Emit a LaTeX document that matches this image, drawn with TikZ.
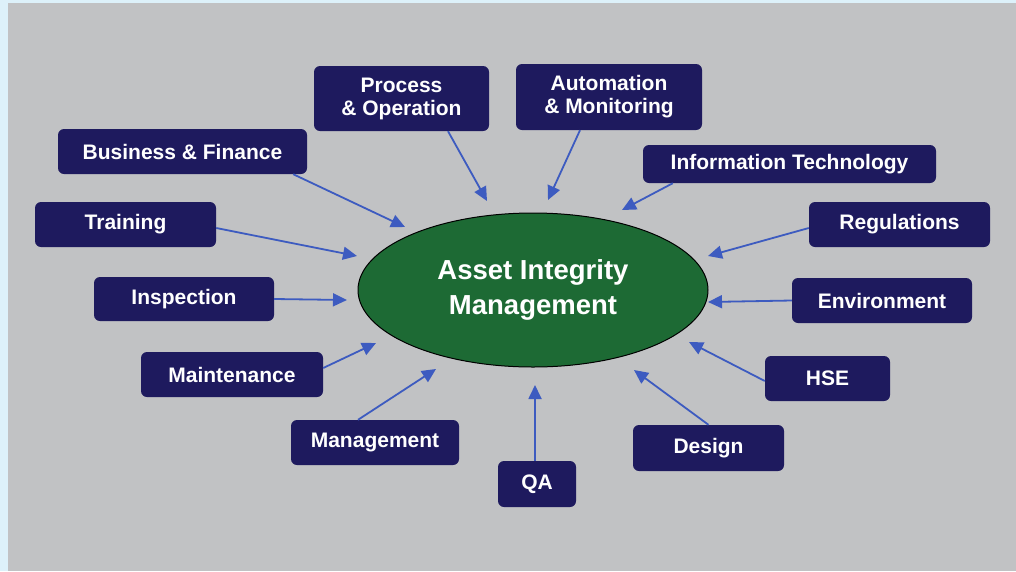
\documentclass[tikz,border=0pt]{standalone}
\usepackage{fontspec}
\setmainfont{Liberation Sans}
\usetikzlibrary{arrows.meta,calc,shapes.geometric}
\definecolor{bgblue}{HTML}{DDF1FA}
\definecolor{bggray}{HTML}{C1C2C4}
\definecolor{navy}{HTML}{1E1A5E}
\definecolor{aimgreen}{HTML}{1D6A34}
\definecolor{arrblue}{HTML}{3D5BC0}
\begin{document}
\begin{tikzpicture}[x=1pt,y=-1pt,
  topic/.style={rectangle,rounded corners=6pt,fill=navy,text=white,inner sep=0pt,
    align=center,font=\bfseries\fontsize{21}{23}\selectfont},
  feed/.style={draw=arrblue,line width=1.8pt,-{Triangle[length=14pt,width=13pt]}}]
\useasboundingbox (0,0) rectangle (1016,571);
\fill[bgblue] (0,0) rectangle (1016,571);
\fill[bggray] (8,3) rectangle (1016,571);
% centre
\node[ellipse,fill=aimgreen,draw=black,line width=1pt,minimum width=350pt,minimum height=154pt,
  text=white,align=center,inner sep=0pt,font=\bfseries\fontsize{27.5}{35}\selectfont] (aim) at (533,290)
  {Asset Integrity\\Management};
% topics
\node[topic,minimum width=175pt,minimum height=65pt] (pro) at (401.5,98.5) {Process\\\& Operation};
\node[topic,minimum width=186pt,minimum height=66pt] (aut) at (609,97) {Automation\\\& Monitoring};
\node[topic,minimum width=249pt,minimum height=45pt] (bus) at (182.5,151.5) {Business \& Finance};
\node[topic,minimum width=293pt,minimum height=38pt] (it) at (789.5,164) {Information Technology};
\node[topic,minimum width=181pt,minimum height=45pt] (tra) at (125.5,224.5) {Training};
\node[topic,minimum width=181pt,minimum height=45pt] (reg) at (899.5,224.5) {Regulations};
\node[topic,minimum width=180pt,minimum height=44pt] (ins) at (184,299) {Inspection};
\node[topic,minimum width=180pt,minimum height=45pt] (env) at (882,300.5) {Environment};
\node[topic,minimum width=182pt,minimum height=45pt] (mai) at (232,374.5) {Maintenance};
\node[topic,minimum width=125pt,minimum height=45pt] (hse) at (827.5,378.5) {HSE};
\node[topic,minimum width=168pt,minimum height=45pt] (man) at (375,442.5) {Management};
\node[topic,minimum width=151pt,minimum height=46pt] (des) at (708.5,448) {Design};
\node[topic,minimum width=78pt,minimum height=46pt] (qa) at (537,484) {QA};
% arrow tips
\coordinate (tpro) at (487,201);
\coordinate (taut) at (548,200);
\coordinate (tit) at (622,210);
\coordinate (tbus) at (405,227);
\coordinate (ttra) at (357,256);
\coordinate (tins) at (347,300);
\coordinate (tmai) at (376,343);
\coordinate (tman) at (436,369);
\coordinate (tqa) at (535,385);
\coordinate (tdes) at (634,370);
\coordinate (thse) at (689,342);
\coordinate (tenv) at (708,302);
\coordinate (treg) at (708,256);
% connectors
\draw[feed] ($(pro.south)+(46.5,0)$) -- (tpro);
\draw[feed] ($(aut.south)+(-29,0)$) -- (taut);
\draw[feed] ($(it.south west)+(30,0)$) -- (tit);
\draw[feed] ($(bus.south east)+(-14,0)$) -- (tbus);
\draw[feed] ($(tra.east)+(0,3.5)$) -- (ttra);
\draw[feed] (ins.east) -- (tins);
\draw[feed] ($(mai.east)+(0,-6.5)$) -- (tmai);
\draw[feed] ($(man.north)+(-17,0)$) -- (tman);
\draw[feed] ($(qa.north)+(-2,0)$) -- (tqa);
\draw[feed] (des.north) -- (tdes);
\draw[feed] ($(hse.west)+(0,2.5)$) -- (thse);
\draw[feed] (env.west) -- (tenv);
\draw[feed] ($(reg.west)+(0,3.5)$) -- (treg);
\end{tikzpicture}
\end{document}
